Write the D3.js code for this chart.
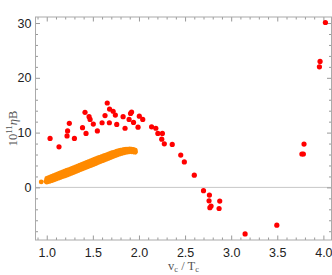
<!DOCTYPE html>
<html>
<head>
<meta charset="utf-8">
<script src="https://cdn.jsdelivr.net/npm/d3@7"></script>
<style>
  body { margin: 0; background: #fff; }
  svg { display: block; font-family: "Liberation Serif", "DejaVu Serif", serif; }
  .tick text { font-size: 12.5px; fill: #222; }
  .axis-title { font-size: 12.5px; fill: #555; }
</style>
</head>
<body>
<svg id="chart" width="332" height="275"></svg>
<script>
(function() {
    // red scatter points (v_c/T_c, 10^11 eta_B)
    var redV = [1.036, 1.133, 1.245, 1.226, 1.22, 1.30, 1.388, 1.415, 1.426, 1.459,
                1.47, 1.505, 1.549, 1.60, 1.632, 1.656, 1.681, 1.679, 1.72, 1.744,
                1.759, 1.828, 1.849, 1.893, 1.909, 1.92, 1.941, 1.99, 2.004, 2.041,
                2.137, 2.183, 2.205, 2.254, 2.247, 2.275, 2.361, 2.453, 2.492, 2.60,
                2.70, 2.764, 2.76, 2.782, 2.769, 2.876, 2.869, 3.151, 3.495, 3.767,
                3.783, 3.79, 3.957, 3.964, 4.022]
    var redY = [8.94, 7.4, 11.7, 10.3, 9.4, 8.94, 10.9, 13.7, 9.85, 12.9,
                12.4, 11.55, 10.3, 11.8, 13.1, 15.4, 14.3, 11.8, 13.9, 13.2,
                11.5, 12.9, 10.8, 12.4, 13.5, 13.75, 11.85, 11.0, 13.0, 12.4,
                11.06, 10.8, 9.85, 9.85, 8.8, 7.96, 7.85, 5.9, 4.65, 2.24,
                -0.6, -1.4, -2.45, -3.4, -3.7, -2.5, -3.85, -8.5, -6.9, 6.1,
                6.1, 7.9, 22.0, 23.0, 30.1]

    // orange band: positions along x, lower / middle / upper edge values
    var orangeV = [1.00, 1.02, 1.04, 1.06, 1.08, 1.10, 1.12, 1.14, 1.16, 1.18,
                   1.20, 1.22, 1.24, 1.26, 1.28, 1.30, 1.32, 1.34, 1.36, 1.38,
                   1.40, 1.42, 1.44, 1.46, 1.48, 1.50, 1.52, 1.54, 1.56, 1.58,
                   1.60, 1.62, 1.64, 1.66, 1.68, 1.70, 1.72, 1.74, 1.76, 1.78,
                   1.80, 1.82, 1.84, 1.86, 1.88, 1.90, 1.92, 1.94, 1.96]
    var orangeLo = [0.95, 1.05, 1.15, 1.26, 1.38, 1.50, 1.64, 1.76, 1.90, 2.00,
                    2.12, 2.24, 2.37, 2.50, 2.64, 2.78, 2.92, 3.06, 3.20, 3.33,
                    3.46, 3.60, 3.74, 3.87, 4.00, 4.13, 4.27, 4.41, 4.55, 4.69,
                    4.83, 4.95, 5.08, 5.21, 5.35, 5.49, 5.62, 5.76, 5.89, 6.01,
                    6.12, 6.22, 6.32, 6.40, 6.46, 6.50, 6.50, 6.46, 6.40]
    var orangeMid = [1.30, 1.45, 1.58, 1.72, 1.86, 2.00, 2.14, 2.28, 2.41, 2.53,
                     2.65, 2.77, 2.89, 3.02, 3.16, 3.30, 3.44, 3.58, 3.72, 3.84,
                     3.96, 4.10, 4.24, 4.38, 4.50, 4.62, 4.76, 4.90, 5.03, 5.17,
                     5.30, 5.42, 5.54, 5.66, 5.80, 5.94, 6.06, 6.18, 6.30, 6.40,
                     6.50, 6.58, 6.66, 6.72, 6.76, 6.78, 6.76, 6.70, 6.60]
    var orangeHi = [1.62, 1.78, 1.92, 2.06, 2.20, 2.34, 2.48, 2.62, 2.76, 2.89,
                    3.02, 3.14, 3.26, 3.38, 3.52, 3.66, 3.80, 3.94, 4.08, 4.22,
                    4.34, 4.48, 4.62, 4.76, 4.88, 5.00, 5.14, 5.28, 5.41, 5.54,
                    5.66, 5.78, 5.90, 6.02, 6.15, 6.28, 6.40, 6.50, 6.61, 6.71,
                    6.79, 6.86, 6.92, 6.97, 7.00, 7.01, 6.98, 6.92, 6.82]
    var orangeExtraV = [0.94, 0.99]
    var orangeExtraY = [1.0, 1.1]

    var xMajor = [1.0, 1.5, 2.0, 2.5, 3.0, 3.5, 4.0]
    var yMajor = [0, 10, 20, 30]

    var left = 35.5, right = 331.5, top = 17, bottom = 240

    var svg = d3.select("#chart")

    var x = d3.scaleLinear().domain([0.878, 4.088]).range([left, right])
    var y = d3.scaleLinear().domain([-9.6, 31.1]).range([bottom, top])

    // minor tick values
    var xMinor = d3.range(9, 41).map(function(d) { return d / 10 })
        .filter(function(d) { return xMajor.indexOf(d) < 0 })
    var yMinor = d3.range(-8, 31, 2).filter(function(d) { return yMajor.indexOf(d) < 0 })

    // zero line
    svg.append("line")
        .attr("x1", left).attr("x2", right)
        .attr("y1", y(0)).attr("y2", y(0))
        .attr("stroke", "#c8c8c8").attr("stroke-width", 1)

    function styleAxis(g) {
        g.select(".domain").remove()
        g.selectAll(".tick line").attr("stroke", "#999")
    }

    // bottom axis with labels
    svg.append("g").attr("transform", "translate(0," + bottom + ")")
        .call(d3.axisBottom(x).tickValues(xMajor).tickFormat(d3.format(".1f"))
            .tickSizeInner(-4.5).tickSizeOuter(0).tickPadding(8))
        .call(styleAxis)
    svg.append("g").attr("transform", "translate(0," + bottom + ")")
        .call(d3.axisBottom(x).tickValues(xMinor).tickFormat("").tickSizeInner(-2.5).tickSizeOuter(0))
        .call(styleAxis)
    // top axis
    svg.append("g").attr("transform", "translate(0," + top + ")")
        .call(d3.axisTop(x).tickValues(xMajor).tickFormat("").tickSizeInner(-4.5).tickSizeOuter(0))
        .call(styleAxis)
    svg.append("g").attr("transform", "translate(0," + top + ")")
        .call(d3.axisTop(x).tickValues(xMinor).tickFormat("").tickSizeInner(-2.5).tickSizeOuter(0))
        .call(styleAxis)
    // left axis with labels
    svg.append("g").attr("transform", "translate(" + left + ",0)")
        .call(d3.axisLeft(y).tickValues(yMajor).tickFormat(d3.format("d"))
            .tickSizeInner(-4.5).tickSizeOuter(0).tickPadding(4))
        .call(styleAxis)
    svg.append("g").attr("transform", "translate(" + left + ",0)")
        .call(d3.axisLeft(y).tickValues(yMinor).tickFormat("").tickSizeInner(-2.5).tickSizeOuter(0))
        .call(styleAxis)
    // right axis
    svg.append("g").attr("transform", "translate(" + right + ",0)")
        .call(d3.axisRight(y).tickValues(yMajor).tickFormat("").tickSizeInner(-4.5).tickSizeOuter(0))
        .call(styleAxis)
    svg.append("g").attr("transform", "translate(" + right + ",0)")
        .call(d3.axisRight(y).tickValues(yMinor).tickFormat("").tickSizeInner(-2.5).tickSizeOuter(0))
        .call(styleAxis)

    svg.selectAll(".tick text").attr("font-family", null).attr("font-size", null)

    // frame
    svg.append("rect")
        .attr("x", left).attr("y", top)
        .attr("width", right - left).attr("height", bottom - top)
        .attr("fill", "none").attr("stroke", "#aaa").attr("stroke-width", 1)

    // orange band points
    var orange = []
    orangeV.forEach(function(v, i) {
        orange.push([v, orangeLo[i]], [v, orangeMid[i]], [v, orangeHi[i]])
    })
    orangeExtraV.forEach(function(v, i) { orange.push([v, orangeExtraY[i]]) })

    svg.append("g").selectAll("circle")
        .data(orange).enter().append("circle")
        .attr("cx", function(d) { return x(d[0]) })
        .attr("cy", function(d) { return y(d[1]) })
        .attr("r", 2.4)
        .attr("fill", "#ff8a00")

    // red points
    svg.append("g").selectAll("circle")
        .data(redV).enter().append("circle")
        .attr("cx", function(d) { return x(d) })
        .attr("cy", function(d, i) { return y(redY[i]) })
        .attr("r", 2.6)
        .attr("fill", "#ff0000")

    // axis titles
    var xt = svg.append("text").attr("class", "axis-title")
        .attr("x", (left + right) / 2).attr("y", 270)
        .attr("text-anchor", "middle")
    xt.append("tspan").text("v")
    xt.append("tspan").attr("font-size", "8.5px").attr("dy", 2).text("c")
    xt.append("tspan").attr("dy", -2).text(" / T")
    xt.append("tspan").attr("font-size", "8.5px").attr("dy", 2).text("c")

    var yt = svg.append("text").attr("class", "axis-title")
        .attr("transform", "translate(17," + ((top + bottom) / 2) + ") rotate(-90)")
        .attr("text-anchor", "middle")
    yt.append("tspan").text("10")
    yt.append("tspan").attr("font-size", "9px").attr("dy", -5).text("11")
    yt.append("tspan").attr("dy", 5).attr("font-style", "italic").text("η")
    yt.append("tspan").text("B")
})();
</script>
</body>
</html>
